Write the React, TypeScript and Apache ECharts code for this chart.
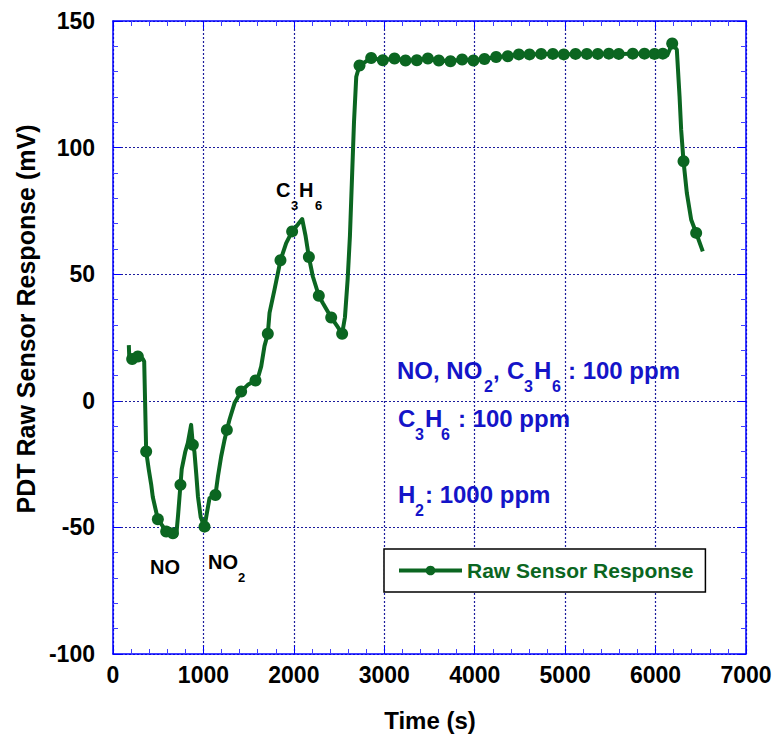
import React, { useEffect, useRef } from 'react';
import * as echarts from 'echarts';

// ---- data ----
const timeS: number[] = [
  175, 180, 212, 250, 275, 330, 345, 367, 395, 422, 440, 496, 540, 588, 630, 662, 700, 720, 746, 760,
  800, 827, 864, 883, 900, 920, 940, 970, 1012, 1040, 1067, 1133, 1160, 1196, 1230, 1259, 1288, 1344,
  1417, 1491, 1576, 1610, 1639, 1675, 1712, 1731, 1786, 1852, 1915, 1981, 2044, 2092, 2130, 2166, 2210,
  2276, 2320, 2413, 2470, 2534, 2565, 2595, 2620, 2645, 2665, 2690, 2726, 2855, 2984, 3113, 3235, 3360,
  3482, 3603, 3732, 3861, 3986, 4108, 4237, 4366, 4488, 4606, 4735, 4864, 4985, 5115, 5240, 5361, 5483,
  5593, 5748, 5877, 5988, 6080, 6130, 6184, 6235, 6265, 6283, 6309, 6346, 6394, 6449, 6522,
];
const responseMV: number[] = [
  22, 17, 16.5, 17.5, 17.5, 16.5, 15.5, -20, -27, -33, -38, -46.8, -49, -51.6, -53, -52.3, -53, -45, -33.2, -27,
  -20, -16.7, -9.5, -17.4, -20, -28.6, -38, -46, -49.7, -44, -38.5, -37.2, -30, -22, -16, -11.5, -7.5, -0.9,
  3.7, 6.3, 8, 10, 13.6, 21.6, 26.5, 34.7, 43.9, 55.5, 62.3, 66.9, 69.6, 71.8, 65, 56.8, 49.1,
  41.5, 38.6, 32.9, 30, 26.5, 33, 48, 65, 90, 110, 128, 132.4, 135.4, 134.5, 135.2, 134.4, 134.5,
  135.2, 134.4, 134.1, 134.8, 134.4, 135, 135.8, 136.1, 136.8, 136.8, 137, 137, 136.8, 137, 137, 137, 137.1,
  137, 137.1, 137.1, 137, 137.1, 136.5, 141.1, 138.7, 120.3, 107, 94.6, 82, 71.5, 66.3, 59,
];
const markerShown: number[] = [
  0, 0, 1, 0, 1, 0, 0, 1, 0, 0, 0, 1, 0, 1, 0, 1, 0, 0, 1, 0,
  0, 0, 0, 1, 0, 0, 0, 0, 1, 0, 0, 1, 0, 0, 0, 1, 0, 0,
  1, 0, 1, 0, 0, 0, 1, 0, 0, 1, 0, 1, 0, 0, 0, 1, 0,
  1, 0, 1, 0, 1, 0, 0, 0, 0, 0, 0, 1, 1, 1, 1, 1, 1,
  1, 1, 1, 1, 1, 1, 1, 1, 1, 1, 1, 1, 1, 1, 1, 1, 1,
  1, 1, 1, 1, 1, 0, 1, 0, 0, 0, 1, 0, 0, 1, 0,
];
const seriesName = 'Raw Sensor Response';
const xAxisTitle = 'Time (s)';
const yAxisTitle = 'PDT Raw Sensor Response (mV)';

// ---- styles ----
const GREEN = '#0b6621';
const BLUE_TEXT = '#1414c8';
const AXIS = '#0000ff';
const AXIS_MINOR = '#4040ff';
const GRID = '#1c1c9c';
const FONT = '"Liberation Sans", Arial, Helvetica, sans-serif';

type Frag = { t: string; x: number; y: number; s: number; c: string };
const annotationLayout: Frag[] = [
  { t: 'NO', x: 150, y: 567, s: 20, c: '#000' },
  { t: 'NO', x: 208, y: 561.5, s: 20, c: '#000' },
  { t: '2', x: 238, y: 577.5, s: 13, c: '#000' },
  { t: 'C', x: 276, y: 189.5, s: 20, c: '#000' },
  { t: '3', x: 291, y: 205, s: 13, c: '#000' },
  { t: 'H', x: 299, y: 189.5, s: 20, c: '#000' },
  { t: '6', x: 315, y: 205, s: 13, c: '#000' },
  // blue line 1
  { t: 'NO, NO', x: 397, y: 370, s: 24, c: BLUE_TEXT },
  { t: '2', x: 484, y: 386, s: 16, c: BLUE_TEXT },
  { t: ',', x: 493, y: 370, s: 24, c: BLUE_TEXT },
  { t: 'C', x: 507, y: 370, s: 24, c: BLUE_TEXT },
  { t: '3', x: 524, y: 386, s: 16, c: BLUE_TEXT },
  { t: 'H', x: 534, y: 370, s: 24, c: BLUE_TEXT },
  { t: '6', x: 552, y: 386, s: 16, c: BLUE_TEXT },
  { t: ': 100 ppm', x: 568, y: 370, s: 24, c: BLUE_TEXT },
  // blue line 2
  { t: 'C', x: 398, y: 418.5, s: 24, c: BLUE_TEXT },
  { t: '3', x: 415, y: 434, s: 16, c: BLUE_TEXT },
  { t: 'H', x: 425, y: 418.5, s: 24, c: BLUE_TEXT },
  { t: '6', x: 441, y: 434, s: 16, c: BLUE_TEXT },
  { t: ': 100 ppm', x: 458, y: 418.5, s: 24, c: BLUE_TEXT },
  // blue line 3
  { t: 'H', x: 398, y: 494.5, s: 24, c: BLUE_TEXT },
  { t: '2', x: 415, y: 510.5, s: 16, c: BLUE_TEXT },
  { t: ': 1000 ppm', x: 425, y: 494.5, s: 24, c: BLUE_TEXT },
];

function makeAxis(kind: 'x' | 'y', primary: boolean): any {
  const isX = kind === 'x';
  return {
    type: 'value',
    min: isX ? 0 : -100,
    max: isX ? 7000 : 150,
    interval: isX ? 1000 : 50,
    position: isX ? (primary ? 'bottom' : 'top') : primary ? 'left' : 'right',
    axisLine: { show: true, onZero: false, lineStyle: { color: AXIS, width: 1.5 } },
    axisTick: { show: true, inside: true, length: 8, lineStyle: { color: AXIS, width: 1 } },
    minorTick: { show: true, splitNumber: 5, length: 5, lineStyle: { color: AXIS_MINOR, width: 1 } },
    axisLabel: primary
      ? {
          show: true,
          margin: isX ? 9 : 18,
          fontSize: 23,
          fontWeight: 'bold',
          color: '#000',
          fontFamily: FONT,
          formatter: (v: number) => String(v),
        }
      : { show: false },
    splitLine: primary
      ? { show: true, lineStyle: { color: GRID, type: [2, 2], width: 1.2 } }
      : { show: false },
    minorSplitLine: { show: false },
  };
}

export default function App() {
  const ref = useRef<HTMLDivElement>(null);
  useEffect(() => {
    if (!ref.current) return;
    const chart = echarts.init(ref.current, null, { renderer: 'svg' });
    const graphics: any[] = annotationLayout.map((f) => ({
      type: 'text',
      x: f.x,
      y: f.y,
      z: 10,
      style: {
        text: f.t,
        fontSize: f.s,
        fontWeight: 'bold',
        fontFamily: FONT,
        fill: f.c,
        align: 'left',
        verticalAlign: 'middle',
      },
    }));
    graphics.push({
      type: 'text',
      x: 26,
      y: 319,
      rotation: Math.PI / 2,
      style: {
        text: yAxisTitle,
        fontSize: 25,
        fontWeight: 'bold',
        fontFamily: FONT,
        fill: '#000',
        align: 'center',
        verticalAlign: 'middle',
      },
    });
    graphics.push({
      type: 'text',
      x: 430,
      y: 720,
      style: {
        text: xAxisTitle,
        fontSize: 24,
        fontWeight: 'bold',
        fontFamily: FONT,
        fill: '#000',
        align: 'center',
        verticalAlign: 'middle',
      },
    });

    chart.setOption({
      animation: false,
      backgroundColor: '#fff',
      grid: { left: 113, right: 30, top: 21, bottom: 81, containLabel: false },
      xAxis: [makeAxis('x', true), makeAxis('x', false)],
      yAxis: [makeAxis('y', true), makeAxis('y', false)],
      legend: {
        data: [seriesName],
        left: 384,
        top: 549,
        padding: [11, 12, 11, 13],
        backgroundColor: '#fff',
        borderColor: '#000',
        borderWidth: 1.5,
        itemWidth: 63,
        itemHeight: 12,
        lineStyle: { width: 4 },
        textStyle: { fontSize: 21, fontWeight: 'bold', color: GREEN, fontFamily: FONT },
        z: 5,
      },
      graphic: graphics,
      series: [
        {
          type: 'line',
          name: seriesName,
          xAxisIndex: 0,
          yAxisIndex: 0,
          data: timeS.map((t, i) => ({
            value: [t, responseMV[i]],
            symbol: markerShown[i] ? 'circle' : 'none',
          })),
          symbol: 'circle',
          symbolSize: 12,
          showAllSymbol: true,
          lineStyle: { color: GREEN, width: 4, join: 'round' },
          itemStyle: { color: GREEN, borderWidth: 0 },
          z: 3,
        },
      ],
    });
    return () => chart.dispose();
  }, []);
  return (
    <div
      ref={ref}
      style={{ position: 'absolute', left: 0, top: 0, width: 776, height: 735, background: '#fff' }}
    />
  );
}
